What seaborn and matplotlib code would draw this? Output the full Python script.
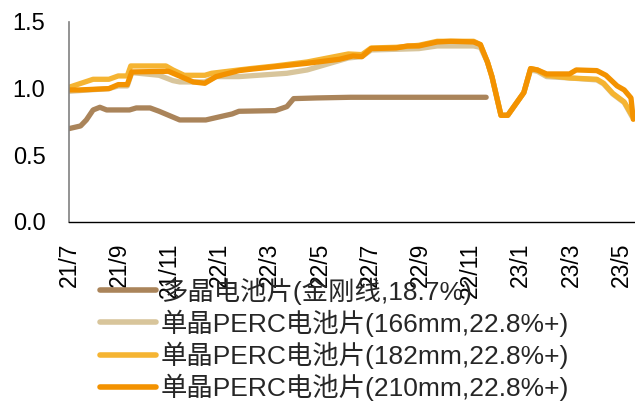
import matplotlib
matplotlib.use("Agg")
import matplotlib.pyplot as plt
import seaborn as sns
import pandas as pd

# x = months since 2021-07
tick_labels = ["21/7", "21/9", "21/11", "22/1", "22/3", "22/5", "22/7", "22/9", "22/11", "23/1", "23/3", "23/5"]
tick_pos = [0, 2, 4, 6, 8, 10, 12, 14, 16, 18, 20, 22]

labels = ["多晶电池片(金刚线,18.7%)",
          "单晶PERC电池片(166mm,22.8%+)",
          "单晶PERC电池片(182mm,22.8%+)",
          "单晶PERC电池片(210mm,22.8%+)"]

multi_x = [0, 0.46, 0.69, 0.96, 1.23, 1.50, 2.41, 2.68, 3.23, 3.59, 4.41, 5.45, 6.50, 6.77, 8.22, 8.68, 8.95, 9.86, 11.22, 16.62]
multi_y = [0.70, 0.72, 0.765, 0.84, 0.86, 0.84, 0.84, 0.855, 0.855, 0.83, 0.765, 0.765, 0.81, 0.83, 0.835, 0.865, 0.925, 0.93, 0.935, 0.935]

m166_x = [0, 1.59, 1.96, 2.32, 2.50, 3.59, 4.14, 4.41, 5.41, 5.86, 6.77, 8.68, 9.49, 11.13, 11.67, 12.04, 13.04, 13.94, 14.67, 16.12, 16.39, 16.67, 16.85, 17.21, 17.48, 18.12, 18.39, 18.66, 19.03, 19.94, 21.03, 21.30, 21.66, 22.12, 22.43]
m166_y = [0.98, 1.0, 1.02, 1.02, 1.12, 1.10, 1.06, 1.05, 1.05, 1.09, 1.09, 1.115, 1.14, 1.23, 1.24, 1.29, 1.295, 1.30, 1.32, 1.32, 1.31, 1.20, 1.09, 0.80, 0.80, 0.97, 1.14, 1.13, 1.09, 1.08, 1.065, 1.035, 0.96, 0.895, 0.79]

m182_x = [0, 0.96, 1.59, 1.96, 2.32, 2.46, 3.86, 4.14, 4.59, 5.41, 5.68, 6.77, 7.22, 8.22, 9.49, 11.13, 11.67, 12.04, 13.04, 13.94, 14.67, 16.12, 16.39, 16.67, 16.85, 17.21, 17.48, 18.12, 18.39, 18.66, 19.03, 19.94, 21.03, 21.30, 21.66, 22.12, 22.43]
m182_y = [1.01, 1.07, 1.07, 1.095, 1.095, 1.17, 1.17, 1.14, 1.10, 1.10, 1.115, 1.14, 1.15, 1.17, 1.20, 1.26, 1.255, 1.305, 1.31, 1.325, 1.355, 1.355, 1.33, 1.20, 1.09, 0.80, 0.80, 0.97, 1.15, 1.14, 1.10, 1.08, 1.07, 1.04, 0.965, 0.90, 0.80]

m210_x = [0, 0.41, 1.59, 1.96, 2.32, 2.50, 3.96, 4.95, 5.41, 5.86, 6.77, 7.22, 8.22, 9.49, 10.77, 11.31, 11.67, 12.04, 13.04, 13.49, 13.94, 14.67, 15.21, 16.12, 16.39, 16.67, 16.85, 17.21, 17.48, 18.12, 18.39, 18.66, 19.03, 19.94, 20.21, 21.03, 21.39, 21.84, 22.12, 22.39, 22.48]
m210_y = [0.99, 0.99, 1.0, 1.03, 1.03, 1.125, 1.13, 1.05, 1.04, 1.09, 1.135, 1.145, 1.165, 1.19, 1.22, 1.245, 1.24, 1.30, 1.305, 1.32, 1.32, 1.35, 1.355, 1.35, 1.33, 1.20, 1.09, 0.80, 0.80, 0.97, 1.15, 1.14, 1.11, 1.11, 1.14, 1.135, 1.10, 1.02, 0.99, 0.93, 0.77]

colors = ["#AA845A", "#D8C59B", "#F5B432", "#F39200"]

sns.set_style("white")
plt.rcParams["font.family"] = ["Liberation Sans", "Noto Sans CJK SC"]

fig = plt.figure(figsize=(6.35, 4.05), dpi=100)
ax = fig.add_axes([0.1087, 0.452, 0.8913, 0.4938])

series = [(multi_x, multi_y), (m166_x, m166_y), (m182_x, m182_y), (m210_x, m210_y)]
for (xs, ys), lab, c in zip(series, labels, colors):
    df = pd.DataFrame({"x": xs, "y": ys})
    sns.lineplot(data=df, x="x", y="y", ax=ax, color=c, linewidth=3.8,
                 label=lab, estimator=None, sort=False,
                 solid_capstyle="round", solid_joinstyle="round")

ax.set_xlim(0, 22.55)
ax.set_ylim(0, 1.5)
ax.set_yticks([0.0, 0.5, 1.0, 1.5])
ax.set_yticklabels(["0.0", "0.5", "1.0", "1.5"])
ax.set_xticks(tick_pos)
ax.set_xticklabels(tick_labels, rotation=90)
ax.set_xlabel("")
ax.set_ylabel("")

for s in ["top", "right"]:
    ax.spines[s].set_visible(False)
ax.spines["left"].set_color("#808080")
ax.spines["left"].set_linewidth(1.2)
ax.spines["bottom"].set_color("#000000")
ax.spines["bottom"].set_linewidth(1.0)

ax.tick_params(axis="y", direction="in", length=5, color="#808080", labelsize=17, pad=17)
ax.tick_params(axis="x", direction="in", length=6, color="#808080", labelsize=16.5, pad=15)
ax.tick_params(axis="both", labelcolor="black")

leg = ax.legend(loc="upper left", bbox_to_anchor=(0.158, 0.315), bbox_transform=fig.transFigure,
                frameon=False, fontsize=19, handlelength=2.1, handletextpad=0.2,
                labelspacing=0.18, borderpad=0, borderaxespad=0)
for line in leg.get_lines():
    line.set_linewidth(4)

fig.savefig("out.png", dpi=100)
